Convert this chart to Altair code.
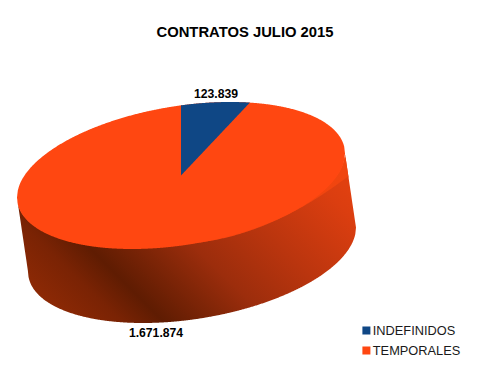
import math
import altair as alt
import pandas as pd

# Chart values
categories = ["INDEFINIDOS", "TEMPORALES"]
values = [123839, 1671874]
value_labels = ["123.839", "1.671.874"]
colors = ["#0F4785", "#FF4711"]
chart_title = "CONTRATOS JULIO 2015"

# Pie-disc geometry (picture pixels)
CX, CY = 181.0, 175.5
W, H, SKEW = 164.0, 73.5, 22.0
KY = math.sqrt(H * H - SKEW * SKEW)
BX, BY = 192.0, 249.5
RIGHT_TOP = (CX + W, CY - SKEW)
RIGHT_BOTTOM = (BX + W, BY - SKEW)
LEFT_TOP = (CX - W, CY + SKEW)
LEFT_BOTTOM = (BX - W, BY + SKEW)


def ellipse_y(x, cx, cy, upper):
    c = max(-1.0, min(1.0, (x - cx) / W))
    s = math.sqrt(1 - c * c)
    return cy - SKEW * c + (-KY * s if upper else KY * s)


def grid(x0, x1, n):
    return [x0 + (x1 - x0) * i / n for i in range(n + 1)]


def wall_top(x):
    if x <= RIGHT_TOP[0]:
        return ellipse_y(x, CX, CY, False) - 1
    return RIGHT_TOP[1] + (RIGHT_BOTTOM[1] - RIGHT_TOP[1]) * (x - RIGHT_TOP[0]) / (RIGHT_BOTTOM[0] - RIGHT_TOP[0])


# Top disc
top_rows = [
    {"x": x, "y": ellipse_y(x, CX, CY, True), "y2": ellipse_y(x, CX, CY, False), "cat": categories[1]}
    for x in grid(CX - W, CX + W, 400)
]

# Wedge of the first category, starting at twelve o'clock, clockwise
frac = values[0] / sum(values)
t = -math.pi / 2 + 2 * math.pi * frac
wx = CX + W * math.cos(t)
wy = CY - SKEW * math.cos(t) + KY * math.sin(t)
wedge_rows = []
for x in grid(CX, wx, 80):
    ratio = (x - CX) / (wx - CX)
    wedge_rows.append({"x": x, "y": ellipse_y(x, CX, CY, True), "y2": CY + (wy - CY) * ratio, "cat": categories[0]})

# Side wall
wall_rows = []
for x in grid(LEFT_TOP[0], RIGHT_BOTTOM[0], 500):
    if x <= LEFT_BOTTOM[0]:
        low = LEFT_TOP[1] + (LEFT_BOTTOM[1] - LEFT_TOP[1]) * (x - LEFT_TOP[0]) / (LEFT_BOTTOM[0] - LEFT_TOP[0])
    else:
        low = ellipse_y(x, BX, BY, False)
    wall_rows.append({"x": x, "y": wall_top(x), "y2": low})

# Brightly lit upper part of the wall on the right
lit_rows = []
for x in grid(200, 348.6, 150):
    u = x - 200
    up = wall_top(x)
    lit_rows.append({"x": x, "y": up, "y2": max(up, 242.4 - 0.128 * u - 0.00215 * u * u)})

labels = pd.DataFrame({"x": [216, 156], "y": [94, 332.5], "t": value_labels})

xs = alt.Scale(domain=[8, 492], nice=False, zero=False)
ys = alt.Scale(domain=[362, 58], nice=False, zero=False)
X = alt.X("x:Q", scale=xs, axis=None)
Y = alt.Y("y:Q", scale=ys, axis=None)
Y2 = alt.Y2("y2:Q")

color = alt.Color(
    "cat:N",
    scale=alt.Scale(domain=categories, range=colors),
    legend=alt.Legend(
        title=None,
        orient="none",
        legendX=352,
        legendY=265,
        symbolType="square",
        symbolSize=64,
        symbolStrokeWidth=0,
        symbolOpacity=1,
        labelFont="Liberation Sans",
        labelFontSize=12.8,
        labelColor="#1a1a1a",
        labelOffset=0,
        rowPadding=5,
        clipHeight=15,
    ),
)

wall = alt.Chart(pd.DataFrame(wall_rows)).mark_area(
    interpolate="linear",
    color=alt.Gradient(
        gradient="linear", x1=0, y1=0.75, x2=1, y2=0.25,
        stops=[
            alt.GradientStop(color="#8F2A05", offset=0.0),
            alt.GradientStop(color="#7A2304", offset=0.15),
            alt.GradientStop(color="#5F1C02", offset=0.25),
            alt.GradientStop(color="#7E2507", offset=0.38),
            alt.GradientStop(color="#9C2D0C", offset=0.5),
            alt.GradientStop(color="#BA350E", offset=0.7),
            alt.GradientStop(color="#DB3E10", offset=0.94),
            alt.GradientStop(color="#E04010", offset=1.0),
        ],
    ),
).encode(x=X, y=Y, y2=Y2)

lit = alt.Chart(pd.DataFrame(lit_rows)).mark_area(
    interpolate="linear",
    color=alt.Gradient(
        gradient="linear", x1=0, y1=0, x2=1, y2=0,
        stops=[
            alt.GradientStop(color="#FB4611", offset=0.0),
            alt.GradientStop(color="#F0450F", offset=1.0),
        ],
    ),
).encode(x=X, y=Y, y2=Y2)

top = alt.Chart(pd.DataFrame(top_rows)).mark_area(interpolate="linear").encode(x=X, y=Y, y2=Y2, color=color)

wedge = alt.Chart(pd.DataFrame(wedge_rows)).mark_area(interpolate="linear").encode(x=X, y=Y, y2=Y2, color=color)

text = alt.Chart(labels).mark_text(
    font="Liberation Sans", fontSize=12.2, fontWeight="bold", color="#000000"
).encode(x=X, y=Y, text="t:N")

chart = (
    alt.layer(wall, lit, top, wedge, text)
    .properties(
        width=484,
        height=304,
        background="#ffffff",
        padding={"left": 0, "top": 50, "right": 0, "bottom": 0},
        autosize=alt.AutoSizeParams(type="none"),
        title=alt.TitleParams(
            chart_title, font="Liberation Sans", fontSize=14.8, fontWeight="bold",
            color="#000000", anchor="middle", dx=-5, offset=18,
        ),
    )
    .configure_view(stroke="transparent", strokeWidth=0)
)

chart.save("out.html", embed_options={"renderer": "svg", "actions": False})
